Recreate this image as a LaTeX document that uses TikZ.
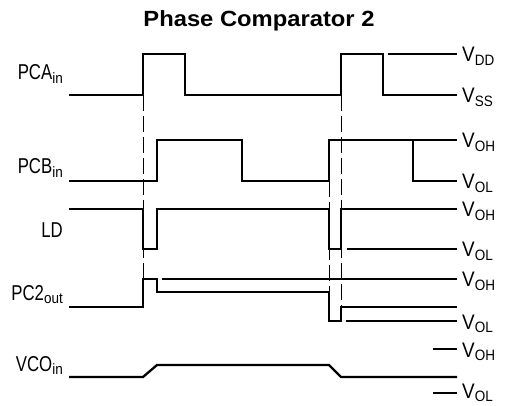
\documentclass[tikz,border=0pt]{standalone}
\usepackage{fontspec}
\setmainfont{Liberation Sans}
\newfontfamily\condsans[FakeStretch=0.78]{Liberation Sans}
\newfontfamily\levelsans[FakeStretch=0.9]{Liberation Sans}
\newfontfamily\subsans[FakeStretch=0.9]{Liberation Sans}
\newfontfamily\titlesans[FakeStretch=1.08]{Liberation Sans Bold}
\newcommand{\sigsub}[2]{#1\raisebox{-3.5pt}{\fontsize{15}{15}\subsans #2}}

\begin{document}
\begin{tikzpicture}[x=1pt, y=-1pt,
    wave/.style={line width=2.3pt},
    guide/.style={line width=0.9pt, dash pattern=on 16pt off 5pt},
    signame/.style={anchor=base east, inner sep=0pt, font=\fontsize{21.5}{24}\condsans},
    level/.style={anchor=base west, inner sep=0pt, font=\fontsize{21}{24}\levelsans}]
    \useasboundingbox (0,0) rectangle (506,406);

    % Title
    \node[anchor=base, inner sep=0pt, font=\fontsize{22}{24}\titlesans] (title) at (259,27) {Phase Comparator 2};

    % Dashed guides
    \draw[guide] (143,95) -- (143,279);
    \draw[guide] (329,181) -- (329,292);
    \draw[guide] (341,95) -- (341,307);

    % PCA in
    \node[signame] (pca) at (63,80) {\sigsub{PCA}{in}};
    \draw[wave] (69,95) -- (143,95) -- (143,54) -- (185,54) -- (185,95) -- (341,95)
        -- (341,54) -- (383,54) -- (383,95) -- (457,95);
    \draw[wave] (388,54) -- (457,54);
    \node[level] (vdd) at (462,62) {\sigsub{V}{DD}};
    \node[level] (vss) at (462,103) {\sigsub{V}{SS}};

    % PCB in
    \node[signame] (pcb) at (63,174) {\sigsub{PCB}{in}};
    \draw[wave] (69,181) -- (157,181) -- (157,140) -- (242,140) -- (242,181) -- (329,181)
        -- (329,140) -- (413,140) -- (413,181) -- (457,181);
    \draw[wave] (413,140) -- (457,140);
    \node[level] (pcbh) at (462,148) {\sigsub{V}{OH}};
    \node[level] (pcbl) at (462,189) {\sigsub{V}{OL}};

    % LD
    \node[signame] (ld) at (63,238) {LD};
    \draw[wave] (69,209) -- (143,209) -- (143,249) -- (157,249) -- (157,209) -- (329,209)
        -- (329,249) -- (341,249) -- (341,209) -- (457,209);
    \draw[wave] (347,249) -- (457,249);
    \node[level] (ldh) at (462,217) {\sigsub{V}{OH}};
    \node[level] (ldl) at (462,257) {\sigsub{V}{OL}};

    % PC2 out
    \node[signame] (pc2) at (63,300) {\sigsub{PC2}{out}};
    \draw[wave] (69,307) -- (143,307) -- (143,279) -- (157,279) -- (157,292) -- (329,292)
        -- (329,321) -- (341,321) -- (341,307) -- (457,307);
    \draw[wave] (162,279) -- (457,279);
    \draw[wave] (346,321) -- (457,321);
    \node[level] (pc2h) at (462,287) {\sigsub{V}{OH}};
    \node[level] (pc2l) at (462,329) {\sigsub{V}{OL}};

    % VCO in
    \node[signame] (vco) at (63,371) {\sigsub{VCO}{in}};
    \draw[wave] (69,377) -- (143,377) -- (157,365) -- (329,365) -- (341,377) -- (457,377);
    \draw[wave] (433,349) -- (457,349);
    \draw[wave] (433,393) -- (457,393);
    \node[level] (vcoh) at (462,357) {\sigsub{V}{OH}};
    \node[level] (vcol) at (462,398) {\sigsub{V}{OL}};
\end{tikzpicture}
\end{document}
